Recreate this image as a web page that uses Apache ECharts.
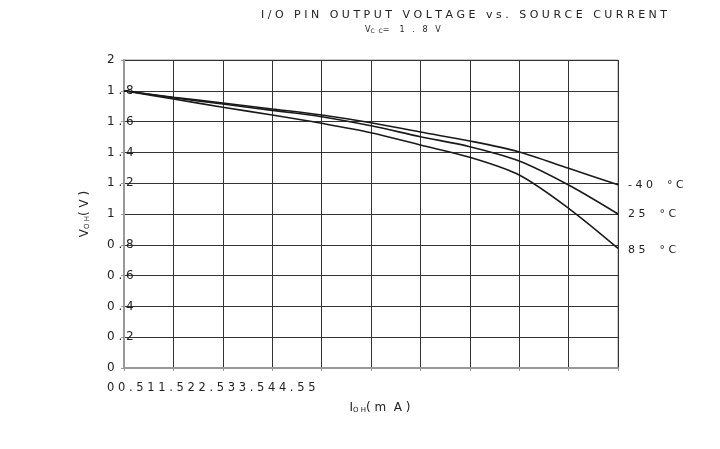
<!DOCTYPE html>
<html>
<head>
<meta charset="utf-8">
<title>I/O pin output voltage vs. source current</title>
<script src="https://cdn.jsdelivr.net/npm/echarts@6/dist/echarts.min.js"></script>
<style>
  body { margin: 0; padding: 0; background: #fff; }
  #chart { width: 720px; height: 449px; }
</style>
</head>
<body>
<div id="chart"></div>
<script>
  // source current IOH (mA)
  var current = [0, 0.5, 1, 1.5, 2, 2.5, 3, 3.5, 4, 4.5, 5];
  // output voltage VOH (V) per temperature
  var vohMinus40 = [1.80, 1.758, 1.721, 1.682, 1.643, 1.593, 1.532, 1.474, 1.403, 1.297, 1.19];
  var voh25 = [1.80, 1.755, 1.714, 1.673, 1.632, 1.573, 1.502, 1.437, 1.344, 1.188, 1.00];
  var voh85 = [1.80, 1.747, 1.693, 1.643, 1.589, 1.528, 1.448, 1.368, 1.253, 1.037, 0.777];
  var seriesNames = ['- 4 0    ° C', '2 5    ° C', '8 5    ° C'];
  var xTickLabels = ['0', '0.5', '1', '1.5', '2', '2.5', '3', '3.5', '4', '4.5', '5'];

  // the original spreads every character apart
  function spaced(s) {
    return String(s).split('').join(' ');
  }
  function pairs(ys) {
    return current.map(function (x, i) { return [x, ys[i]]; });
  }

  var chart = echarts.init(document.getElementById('chart'));
  var font = 'DejaVu Sans';

  var option = {
    animation: false,
    backgroundColor: '#fff',
    title: [
      {
        text: spaced('I/O PIN OUTPUT VOLTAGE vs. SOURCE CURRENT'),
        left: 261, top: 10, padding: 0,
        textStyle: { fontFamily: font, fontSize: 11, fontWeight: 'normal', color: '#222' }
      },
      {
        text: 'V{s|C  C}=    1   .   8   V',
        left: 365, top: 25, padding: 0,
        textStyle: {
          fontFamily: font, fontSize: 8, fontWeight: 'normal', color: '#222',
          rich: { s: { fontFamily: font, fontSize: 6, color: '#222', verticalAlign: 'bottom', padding: [3, 0, 0, 0] } }
        }
      }
    ],
    grid: {
      left: 124, right: 102, top: 60, bottom: 81,
      show: true, borderColor: '#999', borderWidth: 1
    },
    xAxis: {
      type: 'value',
      min: 0, max: 5, interval: 0.5,
      name: 'I{s|O H}( m  A )',
      nameLocation: 'middle',
      nameGap: 34,
      nameTextStyle: {
        fontFamily: font, fontSize: 12, color: '#222', padding: [0, 0, 0, 18],
        rich: { s: { fontFamily: font, fontSize: 7, color: '#222', padding: [5, 0, 0, 0] } }
      },
      axisLine: { show: true, lineStyle: { color: '#999', width: 2 } },
      axisTick: { show: true, length: 3, lineStyle: { color: '#999' } },
      axisLabel: { show: false },
      splitLine: { show: true, lineStyle: { color: '#333', width: 1 } }
    },
    yAxis: {
      type: 'value',
      min: 0, max: 2, interval: 0.2,
      name: 'V{s|O H}( V )',
      nameLocation: 'middle',
      nameGap: 33,
      nameRotate: 90,
      nameTextStyle: {
        fontFamily: font, fontSize: 12, color: '#222',
        rich: { s: { fontFamily: font, fontSize: 7, color: '#222', padding: [5, 0, 0, 0] } }
      },
      axisLine: { show: true, lineStyle: { color: '#999', width: 2 } },
      axisTick: { show: true, length: 3, lineStyle: { color: '#999' } },
      axisLabel: {
        fontFamily: font, fontSize: 12, color: '#222',
        align: 'left', margin: 17,
        formatter: function (v) { return spaced(Math.round(v * 10) / 10); }
      },
      splitLine: { show: true, lineStyle: { color: '#333', width: 1 } }
    },
    graphic: [
      {
        type: 'text', left: 107, top: 382,
        style: { text: spaced(xTickLabels.join('')), font: '11.5px "DejaVu Sans"', fill: '#222' }
      }
    ],
    series: [
      { name: seriesNames[0], data: pairs(vohMinus40), labelOffset: [0, 0] },
      { name: seriesNames[1], data: pairs(voh25), labelOffset: [0, 0] },
      { name: seriesNames[2], data: pairs(voh85), labelOffset: [0, 2] }
    ].map(function (s) {
      return {
        name: s.name,
        type: 'line',
        smooth: 0.3,
        symbol: 'none',
        data: s.data,
        lineStyle: { color: '#1a1a1a', width: 1.6 },
        endLabel: {
          show: true,
          distance: 10,
          offset: s.labelOffset,
          formatter: '{a}',
          fontFamily: font, fontSize: 11, color: '#222'
        }
      };
    })
  };

  chart.setOption(option);
</script>
</body>
</html>
